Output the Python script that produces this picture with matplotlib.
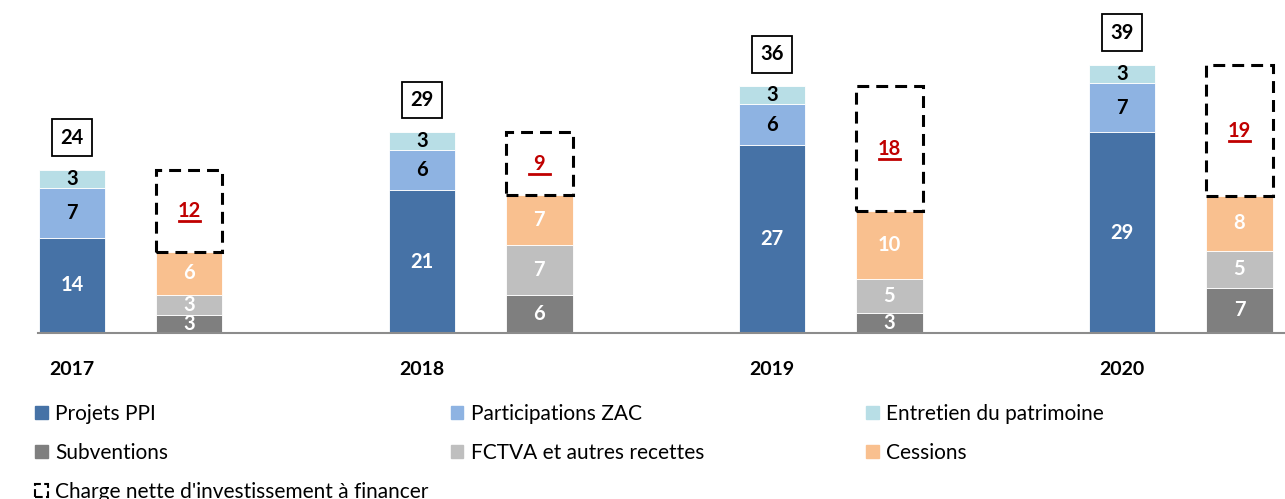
import matplotlib
matplotlib.use('Agg')
import matplotlib.pyplot as plt
from matplotlib.patches import Patch
import numpy as np

plt.rcParams['font.family'] = ['Lato', 'DejaVu Sans']

years = ['2017', '2018', '2019', '2020']

# dépenses (barre de gauche)
projets_ppi = [13.9, 20.8, 27.4, 29.3]
participations_zac = [7.3, 5.9, 6.0, 7.2]
entretien = [2.6, 2.6, 2.6, 2.6]

# financements (barre de droite)
subventions = [2.6, 5.6, 2.9, 6.6]
fctva = [3.0, 7.2, 5.0, 5.4]
cessions = [6.2, 7.3, 9.9, 8.0]
charge_nette = [12.0, 9.2, 18.2, 19.1]

c_ppi = '#4672A6'
c_zac = '#8EB3E2'
c_ent = '#B8DEE6'
c_sub = '#7F7F7F'
c_fct = '#BFBFBF'
c_ces = '#F9C08F'
c_red = '#C00000'


def stack(ax, x, series, colors, txtcolors, width):
    bottom = np.zeros(len(x))
    for vals, col, tc in zip(series, colors, txtcolors):
        vals = np.array(vals)
        ax.bar(x, vals, width, bottom=bottom, color=col, edgecolor='white', linewidth=0.6)
        for xi, b, v in zip(x, bottom, vals):
            ax.text(xi, b + v / 2, f'{v:.0f}', ha='center', va='center',
                    fontsize=14.5, fontweight='bold', color=tc)
        bottom = bottom + vals
    return bottom


def main():
    fig = plt.figure(figsize=(12.85, 4.99), dpi=100)
    ax = fig.add_axes([38 / 1285, 166 / 499, 1 - 38 / 1285, 333 / 499])

    x = np.arange(len(years))
    w = 0.19
    xr = x + 0.335

    top_l = stack(ax, x, [projets_ppi, participations_zac, entretien],
                  [c_ppi, c_zac, c_ent], ['white', 'black', 'black'], w)
    top_r = stack(ax, xr, [subventions, fctva, cessions],
                  [c_sub, c_fct, c_ces], ['white', 'white', 'white'], w)

    # charge nette : cadre pointillé
    ax.bar(xr, charge_nette, w, bottom=top_r, fill=False, edgecolor='black',
           linewidth=2.2, linestyle=(0, (3.9, 2.3)))
    for xi, b, v in zip(xr, top_r, charge_nette):
        yc = b + v / 2
        ax.text(xi, yc, f'{v:.0f}', ha='center', va='center', fontsize=14.5,
                fontweight='bold', color=c_red)
        ax.plot([xi - 0.03, xi + 0.03], [yc - 1.5, yc - 1.5], color=c_red, lw=2)

    # totaux encadrés
    for xi, t in zip(x, top_l):
        ax.text(xi, t + 4.7, f'{t:.0f}', ha='center', va='center', fontsize=14.5,
                fontweight='bold', color='black',
                bbox=dict(boxstyle='square,pad=0.42', fc='white', ec='black', lw=1.3))

    ax.set_xlim(-0.097, 3.465)
    ax.set_ylim(0, 48.6)
    ax.set_xticks(x)
    ax.set_xticklabels(years, fontsize=14, fontweight='bold')
    ax.tick_params(axis='x', length=0, pad=20)
    ax.set_yticks([])
    for s in ['top', 'right', 'left']:
        ax.spines[s].set_visible(False)
    ax.spines['bottom'].set_color('#8C8C8C')
    ax.spines['bottom'].set_linewidth(1.5)

    # légende en trois colonnes
    cols = [
        ([Patch(color=c_ppi), Patch(color=c_sub),
          Patch(facecolor='white', edgecolor='black', linestyle='--', linewidth=1.5)],
         ['Projets PPI', 'Subventions', "Charge nette d'investissement à financer"], 35),
        ([Patch(color=c_zac), Patch(color=c_fct)],
         ['Participations ZAC', 'FCTVA et autres recettes'], 451),
        ([Patch(color=c_ent), Patch(color=c_ces)],
         ['Entretien du patrimoine', 'Cessions'], 866),
    ]
    for handles, labels, px in cols:
        fig.legend(handles, labels, loc='upper left',
                   bbox_to_anchor=(px / 1285, 1 - 404 / 499),
                   frameon=False, fontsize=15, handlelength=0.6,
                   handleheight=0.6, handletextpad=0.35, labelspacing=0.9,
                   borderpad=0, borderaxespad=0)

    fig.savefig('out.png', dpi=100)


if __name__ == '__main__':
    main()
